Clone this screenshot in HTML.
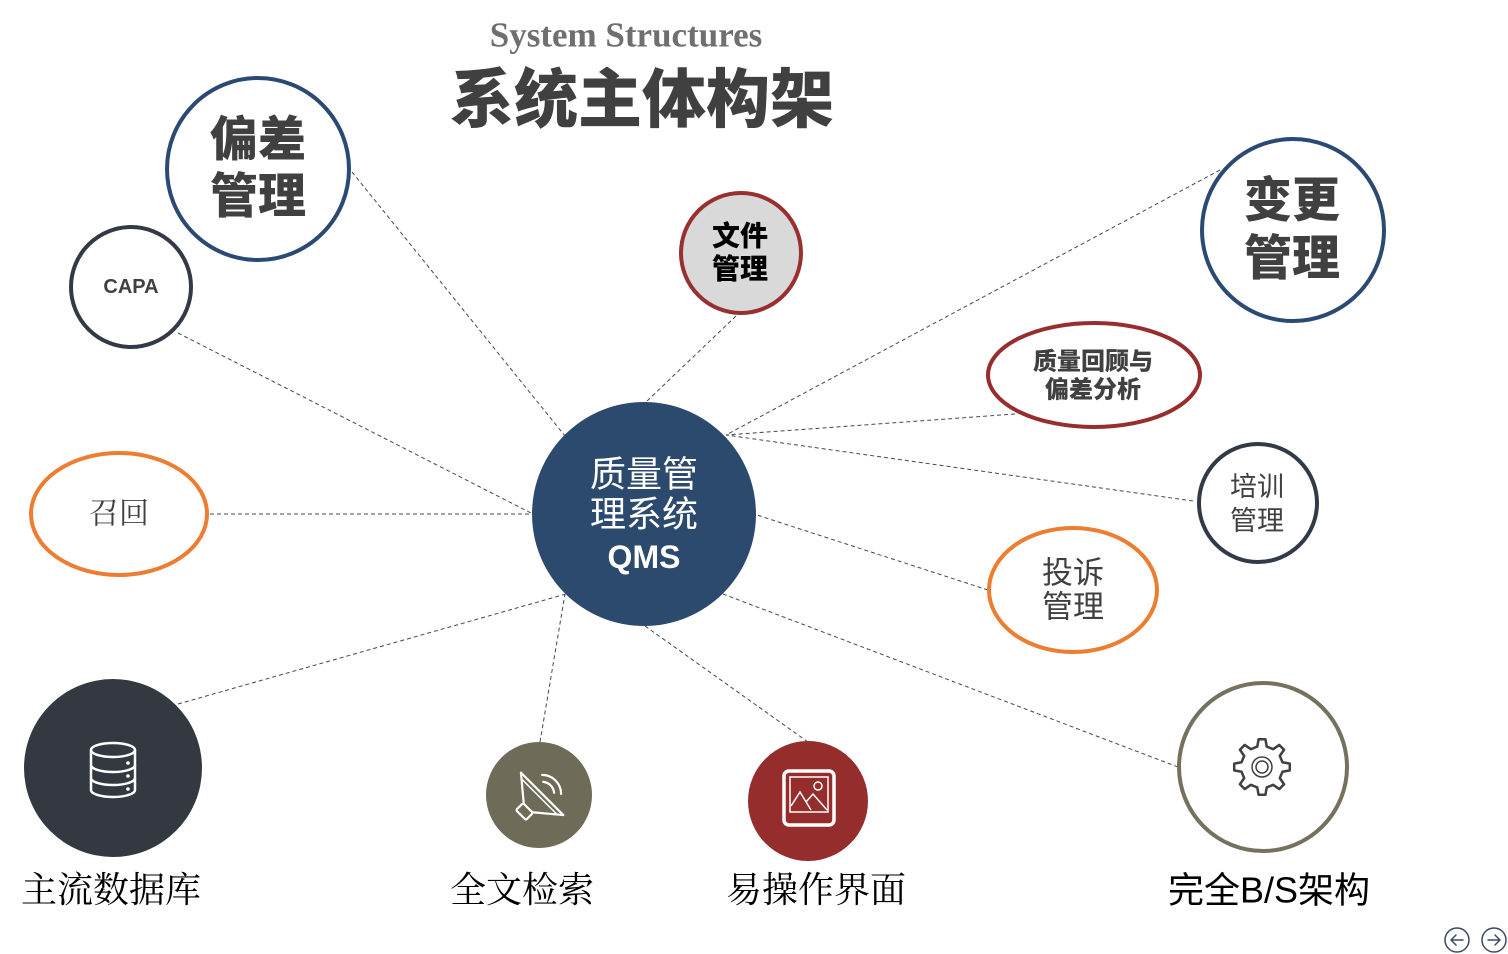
<!DOCTYPE html>
<html><head><meta charset="utf-8"><style>
html,body{margin:0;padding:0;background:#fff;}
svg{display:block;}
.cj{font-family:"Liberation Sans","Noto Sans CJK SC",sans-serif;}
.cs{font-family:"Liberation Serif","Noto Serif CJK SC",serif;}
</style></head><body>
<svg width="1508" height="954" viewBox="0 0 1508 954" xmlns="http://www.w3.org/2000/svg">
<rect width="1508" height="954" fill="#fff"/>
<!-- connectors -->
<g stroke="#3d4a5c" stroke-width="1" stroke-dasharray="4 3" fill="none">
<line x1="352" y1="172" x2="565" y2="436"/>
<line x1="178" y1="333" x2="531" y2="513"/>
<line x1="210" y1="514" x2="532" y2="514"/>
<line x1="178" y1="704" x2="566" y2="594"/>
<line x1="540" y1="742" x2="565" y2="594"/>
<line x1="808" y1="742" x2="645" y2="626"/>
<line x1="1178" y1="767" x2="723" y2="594"/>
<line x1="988" y1="590" x2="757" y2="515"/>
<line x1="1193" y1="501" x2="726" y2="435"/>
<line x1="1015" y1="414" x2="726" y2="435"/>
<line x1="1220" y1="170" x2="726" y2="435"/>
<line x1="736" y1="316" x2="646" y2="402"/>
</g>

<!-- title -->
<text x="626" y="35" text-anchor="middle" dominant-baseline="central" font-family="'Liberation Serif',serif" font-weight="bold" font-size="35" fill="#6f6f6f">System Structures</text>
<text x="642" y="100" text-anchor="middle" dominant-baseline="central" class="cj" font-weight="900" font-size="64" fill="#404040">系统主体构架</text>

<!-- center -->
<circle cx="644" cy="514" r="112" fill="#2c4a6e"/>
<g class="cj" fill="#fff" text-anchor="middle" dominant-baseline="central">
<text x="644" y="474" font-size="36">质量管</text>
<text x="644" y="514" font-size="36">理系统</text>
<text x="644" y="557" font-size="32" font-weight="bold">QMS</text>
</g>

<!-- 偏差管理 -->
<circle cx="258" cy="169" r="91" fill="#fff" stroke="#2a4a73" stroke-width="4"/>
<g class="cj" fill="#404040" font-weight="900" font-size="48" text-anchor="middle" dominant-baseline="central">
<text x="258" y="140">偏差</text><text x="258" y="197">管理</text></g>

<!-- CAPA -->
<circle cx="131" cy="287" r="60" fill="#fff" stroke="#333a45" stroke-width="4"/>
<text x="131" y="287" text-anchor="middle" dominant-baseline="central" font-family="'Liberation Sans',sans-serif" font-weight="bold" font-size="20" fill="#404040">CAPA</text>

<!-- 文件管理 -->
<circle cx="741" cy="253" r="60" fill="#d9d9d9" stroke="#98302f" stroke-width="4"/>
<g class="cj" fill="#000" font-weight="900" font-size="28" text-anchor="middle" dominant-baseline="central">
<text x="740" y="236">文件</text><text x="740" y="269">管理</text></g>

<!-- 变更管理 -->
<circle cx="1293" cy="230" r="91" fill="#fff" stroke="#2a4a73" stroke-width="4"/>
<g class="cj" fill="#404040" font-weight="900" font-size="48" text-anchor="middle" dominant-baseline="central">
<text x="1292" y="201">变更</text><text x="1292" y="259">管理</text></g>

<!-- 质量回顾 -->
<ellipse cx="1094" cy="375" rx="106" ry="52" fill="#fff" stroke="#972d2d" stroke-width="4"/>
<g class="cj" fill="#404040" font-weight="900" font-size="24" text-anchor="middle" dominant-baseline="central">
<text x="1093" y="362">质量回顾与</text><text x="1093" y="390">偏差分析</text></g>

<!-- 培训管理 -->
<circle cx="1258" cy="503" r="59" fill="#fff" stroke="#323a47" stroke-width="4"/>
<g class="cj" fill="#404040" font-size="27" text-anchor="middle" dominant-baseline="central">
<text x="1257" y="487">培训</text><text x="1257" y="521">管理</text></g>

<!-- 投诉管理 -->
<ellipse cx="1073" cy="590" rx="84" ry="62" fill="#fff" stroke="#ed7d31" stroke-width="4"/>
<g class="cj" fill="#404040" font-size="31" text-anchor="middle" dominant-baseline="central">
<text x="1073" y="573">投诉</text><text x="1073" y="607">管理</text></g>

<!-- 召回 -->
<ellipse cx="119" cy="514" rx="88" ry="61" fill="#fff" stroke="#ed7d31" stroke-width="4"/>
<text x="119" y="514" class="cs" fill="#404040" font-size="30" text-anchor="middle" dominant-baseline="central">召回</text>

<!-- 主流数据库 -->
<circle cx="113" cy="768" r="89" fill="#343841"/>
<g fill="none" stroke="#fff" stroke-width="2.5">
<ellipse cx="113" cy="750" rx="22" ry="7"/>
<path d="M91 750 V790 A22 7 0 0 0 135 790 V750"/>
<path d="M91 765 A22 7 0 0 0 135 765"/>
<path d="M91 778 A22 7 0 0 0 135 778"/>
</g>
<g fill="#fff"><circle cx="128" cy="763" r="1.8"/><circle cx="128" cy="776" r="1.8"/><circle cx="128" cy="789" r="1.8"/></g>

<!-- 全文检索 -->
<circle cx="539" cy="795" r="53" fill="#6e6b58"/>
<g transform="translate(528,808) rotate(-45)" fill="none" stroke="#fff" stroke-width="2.2" stroke-linejoin="round" stroke-linecap="round">
<rect x="-10" y="-7" width="10" height="14" rx="1.5"/>
<path d="M0 -6 L20 -30 L20 30 L0 6"/>
<line x1="16" y1="-24" x2="16" y2="24" stroke-width="1.5"/>
<path d="M29.2 -7.7 A12 12 0 0 1 29.2 7.7"/>
<path d="M33.4 -13.4 A19 19 0 0 1 33.4 13.4"/>
</g>

<!-- 易操作界面 -->
<circle cx="808" cy="801" r="60" fill="#962d2d"/>
<g fill="none" stroke="#fff">
<rect x="784" y="771" width="50" height="54" rx="5" stroke-width="3.5"/>
<rect x="790" y="777" width="38" height="35" stroke-width="1.5"/>
<polyline points="791,806 800,792 811,810" stroke-width="1.5"/>
<polyline points="806,802 813,794 827,810" stroke-width="1.5"/>
<circle cx="818" cy="786" r="4" stroke-width="1.5"/>
</g>

<!-- 完全B/S架构 -->
<circle cx="1263" cy="767" r="84" fill="#fff" stroke="#76705f" stroke-width="4"/>
<g transform="translate(1262,767)" fill="none" stroke="#404040" stroke-width="2.5" stroke-linejoin="round">
<path d="M20.46,-4.72 L27.79,-3.41 L27.79,3.41 L20.46,4.72 L17.81,11.13 L22.06,17.24 L17.24,22.06 L11.13,17.81 L4.72,20.46 L3.41,27.79 L-3.41,27.79 L-4.72,20.46 L-11.13,17.81 L-17.24,22.06 L-22.06,17.24 L-17.81,11.13 L-20.46,4.72 L-27.79,3.41 L-27.79,-3.41 L-20.46,-4.72 L-17.81,-11.13 L-22.06,-17.24 L-17.24,-22.06 L-11.13,-17.81 L-4.72,-20.46 L-3.41,-27.79 L3.41,-27.79 L4.72,-20.46 L11.13,-17.81 L17.24,-22.06 L22.06,-17.24 L17.81,-11.13 Z"/>
<circle r="10" stroke-width="1.5"/>
<circle r="6" stroke-width="1.5"/>
</g>

<!-- bottom labels -->
<g class="cs" fill="#000" font-size="36" text-anchor="middle" dominant-baseline="central">
<text x="111" y="890">主流数据库</text>
<text x="522" y="890">全文检索</text>
<text x="816" y="890">易操作界面</text>
<text x="1269" y="890" class="cj">完全B/S架构</text>
</g>

<!-- nav -->
<g fill="none" stroke="#3b4a66" stroke-width="1.5" stroke-linecap="round" stroke-linejoin="round">
<circle cx="1457" cy="940" r="12"/>
<path d="M1463 940 H1451 M1456 935 L1451 940 L1456 945"/>
<circle cx="1494" cy="940" r="12"/>
<path d="M1488 940 H1500 M1495 935 L1500 940 L1495 945"/>
</g>
</svg>
</body></html>
